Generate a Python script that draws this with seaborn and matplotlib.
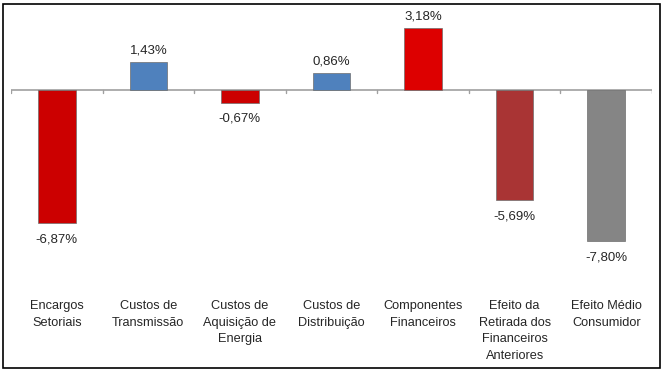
import matplotlib
matplotlib.use("Agg")
import matplotlib.pyplot as plt
import seaborn as sns
import pandas as pd
from matplotlib.patches import Rectangle

# ---------- data ----------
categories = [
    "Encargos\nSetoriais",
    "Custos de\nTransmissão",
    "Custos de\nAquisição de\nEnergia",
    "Custos de\nDistribuição",
    "Componentes\nFinanceiros",
    "Efeito da\nRetirada dos\nFinanceiros\nAnteriores",
    "Efeito Médio\nConsumidor",
]
values = [-6.87, 1.43, -0.67, 0.86, 3.18, -5.69, -7.80]
labels = ["-6,87%", "1,43%", "-0,67%", "0,86%", "3,18%", "-5,69%", "-7,80%"]
colors = ["#CC0000", "#4F81BD", "#CC0000", "#4F81BD", "#DD0000", "#A93434", "#858585"]

df = pd.DataFrame({"cat": categories, "val": values})

# ---------- style ----------
sns.set_style("white")
plt.rcParams["font.family"] = ["Liberation Sans", "DejaVu Sans"]

fig = plt.figure(figsize=(6.66, 3.74), dpi=100)
ax = fig.add_axes([11 / 666, 1 - 264 / 374, 641 / 666, 252 / 374])

sns.barplot(data=df, x="cat", y="val", hue="cat", palette=colors, saturation=1,
            width=0.41, legend=False, ax=ax, edgecolor="#6E6E6E", linewidth=0.5)

ax.set_ylim(-9, 4)
ax.set_xlim(-0.5, len(categories) - 0.5)

# zero line with category separators
ax.axhline(0, color="#A0A0A0", linewidth=1.2, zorder=0)
for i in range(len(categories) + 1):
    ax.plot([i - 0.5, i - 0.5], [0, -0.18], color="#A0A0A0", linewidth=1, zorder=0)

# value labels
for i, (v, lab) in enumerate(zip(values, labels)):
    if v >= 0:
        ax.annotate(lab, (i, v), xytext=(0, 4), textcoords="offset points",
                    ha="center", va="bottom", fontsize=9.5)
    else:
        ax.annotate(lab, (i, v), xytext=(0, -7.5), textcoords="offset points",
                    ha="center", va="top", fontsize=9.5)

for s in ax.spines.values():
    s.set_visible(False)
ax.set_yticks([])
ax.set_xlabel("")
ax.set_ylabel("")
ax.tick_params(axis="x", length=0, pad=26, labelsize=9.2)
for t in ax.get_xticklabels():
    t.set_linespacing(1.5)

# outer border
fig.patches.append(Rectangle((3 / 666, 1 - 368 / 374), 657 / 666, 364 / 374,
                             transform=fig.transFigure, fill=False,
                             edgecolor="black", linewidth=1.2))

fig.savefig("out.png", dpi=100)
